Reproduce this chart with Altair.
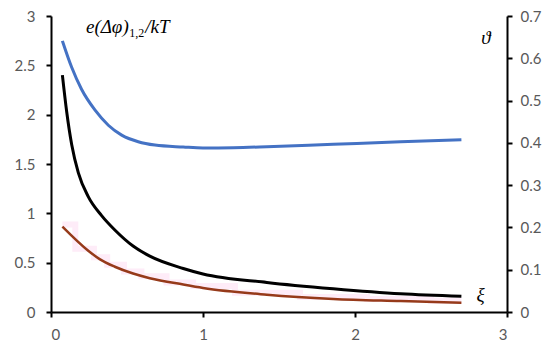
import altair as alt
import pandas as pd

# --- data ---
blue_x = [0.075, 0.136, 0.20, 0.29, 0.377, 0.465, 0.574, 0.684, 0.87, 1.0, 1.2, 1.42, 1.857, 2.30, 2.70]
blue_y = [2.748, 2.48, 2.26, 2.045, 1.893, 1.793, 1.726, 1.692, 1.672, 1.662, 1.665, 1.675, 1.70, 1.725, 1.745]

black_x = [0.075, 0.103, 0.136, 0.18, 0.245, 0.333, 0.42, 0.54, 0.65, 0.87, 1.0, 1.42, 1.857, 2.30, 2.70]
black_y = [0.560, 0.474, 0.396, 0.329, 0.273, 0.228, 0.194, 0.156, 0.132, 0.103, 0.090, 0.070, 0.055, 0.043, 0.037]

brown_x = [0.075, 0.245, 0.32, 0.42, 0.54, 0.65, 0.87, 1.0, 1.42, 1.857, 2.30, 2.70]
brown_y = [0.202, 0.145, 0.125, 0.107, 0.091, 0.080, 0.065, 0.057, 0.041, 0.031, 0.026, 0.022]

left_ticks = [0, 0.5, 1, 1.5, 2, 2.5, 3]
right_ticks = [0, 0.1, 0.2, 0.3, 0.4, 0.5, 0.6, 0.7]
x_ticks = [0, 1, 2, 3]

blue = pd.DataFrame({"x": blue_x, "y": blue_y})
black = pd.DataFrame({"x": black_x, "y": black_y})
brown = pd.DataFrame({"x": brown_x, "y": brown_y})

xscale = alt.Scale(domain=[0, 3], nice=False)
lscale = alt.Scale(domain=[0, 3], nice=False)
rscale = alt.Scale(domain=[0, 0.7], nice=False)

xaxis = alt.Axis(values=x_ticks, title=None, labelPadding=10, format="~g")

blue_line = alt.Chart(blue).mark_line(color="#4472C4", strokeWidth=3, interpolate="monotone").encode(
    x=alt.X("x:Q", scale=xscale, axis=xaxis),
    y=alt.Y("y:Q", scale=lscale,
            axis=alt.Axis(values=left_ticks, title=None, orient="left", labelPadding=11, format="~g")),
)

main_lab = pd.DataFrame({"x": [0.230, 0.62], "y": [2.83, 2.83], "t": ["e(Δφ)", "/kT"]})
sub_lab = pd.DataFrame({"x": [0.515], "y": [2.785], "t": ["1,2"]})
lab_main = alt.Chart(main_lab).mark_text(
    font="Liberation Serif", fontStyle="italic", fontSize=19, align="left", baseline="alphabetic", color="black"
).encode(x="x:Q", y="y:Q", text="t:N")
lab_sub = alt.Chart(sub_lab).mark_text(
    font="Liberation Serif", fontSize=12, align="left", baseline="alphabetic", color="black"
).encode(x="x:Q", y="y:Q", text="t:N")

left = alt.layer(blue_line, lab_main, lab_sub)

pink = alt.Chart(brown).mark_line(color="#feecf8", strokeWidth=6, interpolate="step", yOffset=-2).encode(
    x=alt.X("x:Q", scale=xscale),
    y=alt.Y("y:Q", scale=rscale,
            axis=alt.Axis(values=right_ticks, title=None, orient="right", labelPadding=8, format="~g")),
)
black_line = alt.Chart(black).mark_line(color="black", strokeWidth=3, interpolate="monotone").encode(
    x=alt.X("x:Q", scale=xscale), y=alt.Y("y:Q", scale=rscale)
)
brown_line = alt.Chart(brown).mark_line(color="#963A1A", strokeWidth=2.5, interpolate="monotone").encode(
    x=alt.X("x:Q", scale=xscale), y=alt.Y("y:Q", scale=rscale)
)
greek = pd.DataFrame({"x": [2.83, 2.80], "y": [0.648, 0.040], "t": ["ϑ", "ξ"]})
greek_txt = alt.Chart(greek).mark_text(
    font="Liberation Serif", fontStyle="italic", fontSize=19, align="left", baseline="middle", color="black"
).encode(x="x:Q", y="y:Q", text="t:N")

right = alt.layer(pink, black_line, brown_line, greek_txt)

chart = alt.layer(left, right).resolve_scale(y="independent").properties(
    width=456, height=296,
    autosize=alt.AutoSizeParams(type="none"),
    padding={"left": 43, "top": 8, "right": 35, "bottom": 35},
).configure_view(stroke=None).configure_axis(
    grid=False, domainColor="black", domainWidth=2, tickColor="black", tickWidth=2, tickSize=5,
    labelColor="#595959", labelFont="Lato", labelFontSize=15,
)

chart.save("out.html", embed_options={"renderer": "svg", "actions": False})
